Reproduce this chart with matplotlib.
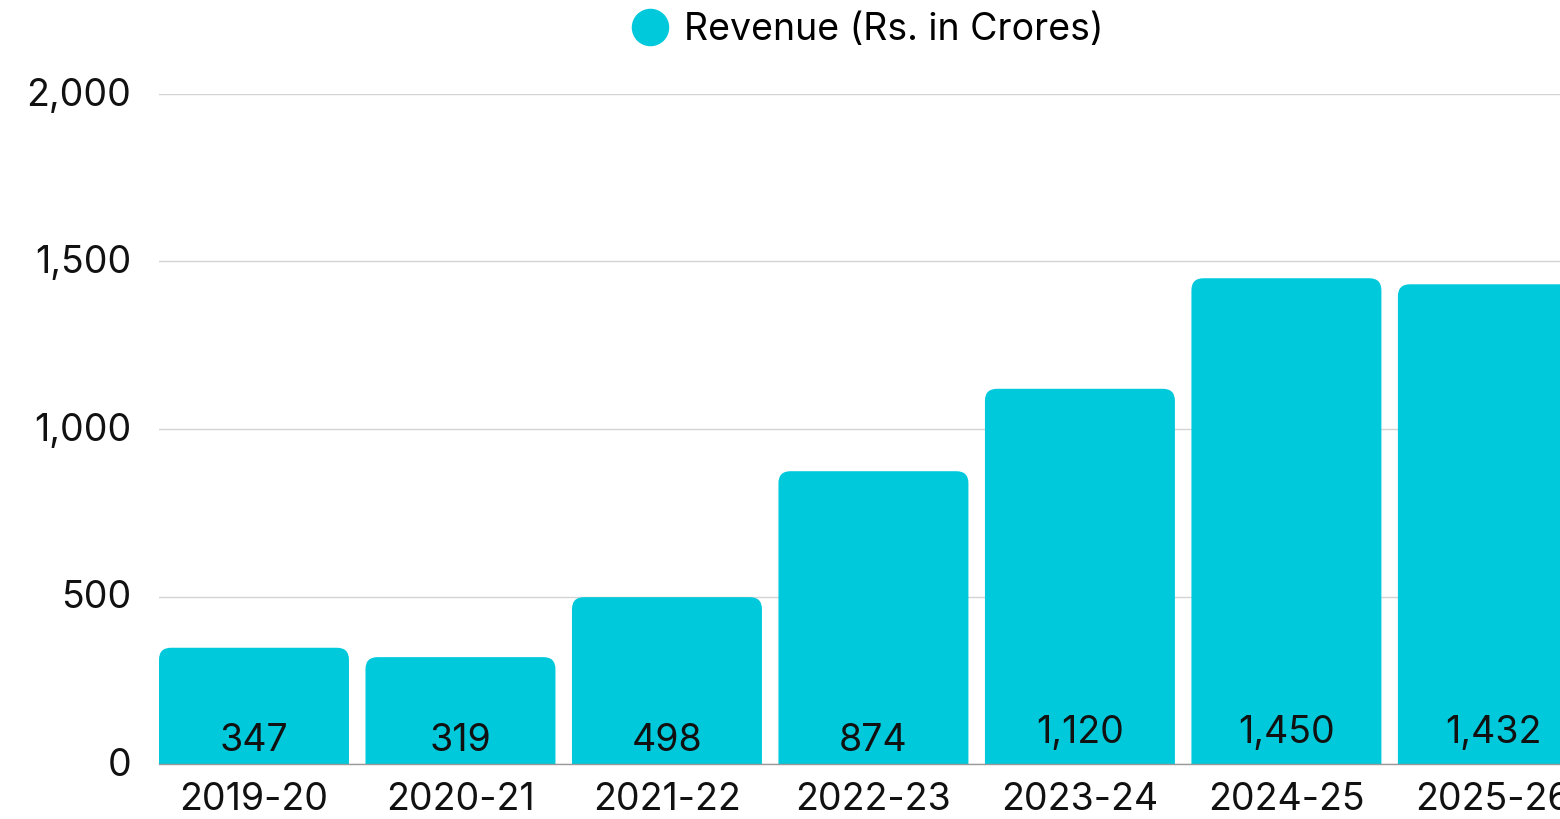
import matplotlib
matplotlib.use("Agg")
import matplotlib.pyplot as plt
from matplotlib.patches import FancyBboxPatch
from matplotlib.lines import Line2D
from matplotlib.ticker import FuncFormatter
from matplotlib.transforms import ScaledTranslation

categories = ["2019-20", "2020-21", "2021-22", "2022-23", "2023-24", "2024-25", "2025-26"]
revenue = [347, 319, 498, 874, 1120, 1450, 1432]
series_name = "Revenue (Rs. in Crores)"
yticks = [0, 500, 1000, 1500, 2000]

BAR = "#00C9DB"
FONT = "Inter"
FS = 27

plt.rcParams["font.family"] = [FONT, "DejaVu Sans"]

fig = plt.figure(figsize=(15.6, 8.19), dpi=100)
ax = fig.add_axes([159 / 1560, 1 - 764 / 819, 1 - 159 / 1560, (764 - 94) / 819])

x = list(range(len(categories)))
bars = ax.bar(x, revenue, width=0.92, color=BAR)

ax.set_xlim(-0.46, 6.325)
ax.set_ylim(0, 2000)

# rounded top corners
px_per_x = ax.get_position().width * 1560 / (6.325 + 0.46)
px_per_y = ax.get_position().height * 819 / 2000
aspect = px_per_x / px_per_y
r_px = 12
for b in bars:
    b.set_visible(False)
    bx, bw, bh = b.get_x(), b.get_width(), b.get_height()
    fb = FancyBboxPatch((bx, -200), bw, bh + 200,
                        boxstyle=f"round,pad=0,rounding_size={r_px / px_per_x}",
                        mutation_aspect=aspect, facecolor=BAR, edgecolor="none",
                        zorder=2, clip_on=True)
    ax.add_patch(fb)

for xi, v in zip(x, revenue):
    lab = f"{v:,}"
    off = 21 if "," in lab else 13
    ax.annotate(lab, (xi, 0), xytext=(0, off), textcoords="offset pixels",
                ha="center", va="baseline", fontsize=FS, color="#111111", zorder=3)

ax.set_yticks(yticks)
ax.yaxis.set_major_formatter(FuncFormatter(lambda v, p: f"{int(v):,}"))
ax.set_xticks(x)
ax.set_xticklabels(categories)
ax.tick_params(axis="both", length=0, labelsize=FS, colors="#111111")
ax.tick_params(axis="y", pad=20)
ax.tick_params(axis="x", pad=13)
for t in ax.get_yticklabels():
    t.set_transform(t.get_transform() + ScaledTranslation(0, 2 / 100, fig.dpi_scale_trans))
ax.grid(axis="y", color="#D3D3D3", linewidth=1)
ax.set_axisbelow(True)
for s in ["top", "right", "left"]:
    ax.spines[s].set_visible(False)
ax.spines["bottom"].set_color("#999999")
ax.spines["bottom"].set_linewidth(1)
ax.spines["bottom"].set_zorder(4)

handle = Line2D([], [], marker="o", linestyle="none", markersize=26,
                markerfacecolor=BAR, markeredgecolor=BAR)
fig.legend([handle], [series_name], loc="center", bbox_to_anchor=(0.556, 1 - 30 / 819),
           frameon=False, fontsize=FS, handletextpad=0.4, handlelength=1.0)

fig.savefig("out.png", dpi=100)
